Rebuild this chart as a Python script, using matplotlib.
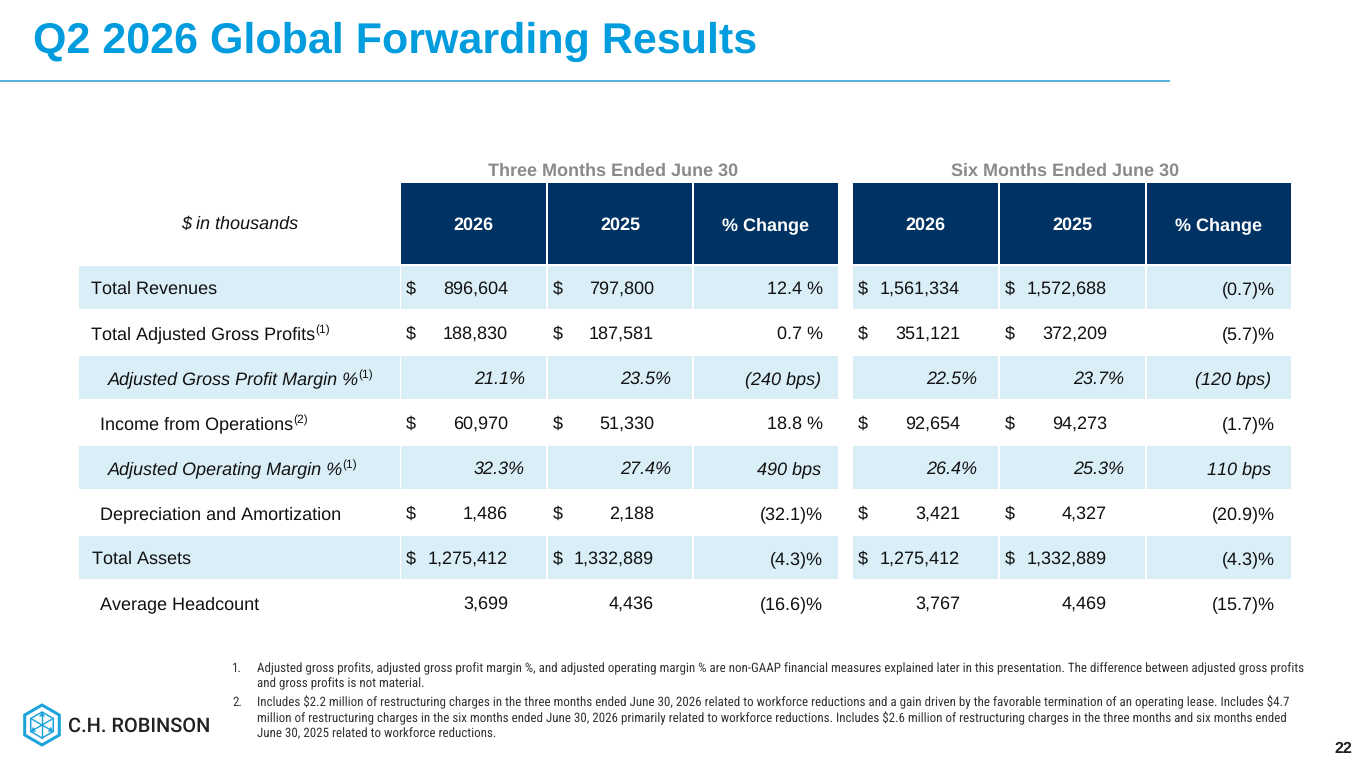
import matplotlib
matplotlib.use("Agg")
import matplotlib.pyplot as plt
from matplotlib.patches import Rectangle, Polygon
from matplotlib import font_manager as fm
import numpy as np

for k, v in (("text.kerning_factor", 10), ("text.hinting", "no_hinting"),
             ("text.hinting_factor", 1)):
    try:
        plt.rcParams[k] = v
    except Exception:
        pass

# ---------------- data ----------------
row_labels = ["Total Revenues", "Total Adjusted Gross Profits",
              "Adjusted Gross Profit Margin %", "Income from Operations",
              "Adjusted Operating Margin %", "Depreciation and Amortization",
              "Total Assets", "Average Headcount"]
row_notes = ["", "(1)", "(1)", "(2)", "(1)", "", "", ""]
row_kind = ["usd", "usd", "pct", "usd", "pct", "usd", "usd", "count"]
q2_2026 = [896604, 188830, 21.1, 60970, 32.3, 1486, 1275412, 3699]
q2_2025 = [797800, 187581, 23.5, 51330, 27.4, 2188, 1332889, 4436]
q2_change = [12.4, 0.7, -240, 18.8, 490, -32.1, -4.3, -16.6]
h1_2026 = [1561334, 351121, 22.5, 92654, 26.4, 3421, 1275412, 3767]
h1_2025 = [1572688, 372209, 23.7, 94273, 25.3, 4327, 1332889, 4469]
h1_change = [-0.7, -5.7, -120, -1.7, 110, -20.9, -4.3, -15.7]
col_headers = ["2026", "2025", "% Change"]
group_titles = ["Three Months Ended June 30", "Six Months Ended June 30"]
units_label = "$ in thousands"
title = "Q2 2026 Global Forwarding Results"
footnotes = [
    ("1.", ["Adjusted gross profits, adjusted gross profit margin %, and adjusted operating margin % are non-GAAP financial measures explained later in this presentation. The difference between adjusted gross profits",
            "and gross profits is not material."]),
    ("2.", ["Includes $2.2 million of restructuring charges in the three months ended June 30, 2026 related to workforce reductions and a gain driven by the favorable termination of an operating lease. Includes $4.7",
            "million of restructuring charges in the six months ended June 30, 2026 primarily related to workforce reductions. Includes $2.6 million of restructuring charges in the three months and six months ended",
            "June 30, 2025 related to workforce reductions."]),
]
page_number = "22"
brand = "C.H. ROBINSON"

# ---------------- style ----------------
FONT = "Liberation Sans"
avail = {f.name for f in fm.fontManager.ttflist}
NARROW = FONT
for cand in ("Liberation Sans Narrow", "Arial Narrow", "Roboto Condensed"):
    if cand in avail:
        NARROW = cand
        break
BLUE = "#009CDE"
RULE = "#5DB3D8"
NAVY = "#003263"
BAND = "#DAEEF8"
GRAY = "#8A8A8A"
TXT = "#111111"

W, H = 1365, 768
fig = plt.figure(figsize=(W / 100, H / 100), dpi=100)
ax = fig.add_axes([0, 0, 1, 1])
ax.set_xlim(0, W)
ax.set_ylim(H, 0)
ax.axis("off")
renderer = fig.canvas.get_renderer()


def pt(px):
    return px * 72 / 100


def T(x, y, s, size, **kw):
    kw.setdefault("family", FONT)
    kw.setdefault("color", TXT)
    kw.setdefault("va", "baseline")
    return ax.text(x, y, s, fontsize=pt(size), parse_math=False, **kw)


# title and rule
T(33, 53, title, 43, weight="bold", color=BLUE)
ax.plot([0, 1170], [81, 81], color=RULE, lw=pt(2), solid_capstyle="butt")

# table layout
label_x0, label_x1 = 79, 399.5
cols = [(401, 546), (548, 692), (694, 838), (853, 998), (1000, 1145), (1147, 1291)]
head_y0, head_y1 = 182.5, 264
row_y0, row_h, band_h = 266, 45, 43
FS = 18

# group titles
T(613, 176, group_titles[0], FS, weight="bold", color=GRAY, ha="center")
T(1065, 176, group_titles[1], FS, weight="bold", color=GRAY, ha="center")
T((label_x0 + label_x1) / 2, 229, units_label, FS, style="italic", ha="center")

# header cells
for i, (x0, x1) in enumerate(cols):
    ax.add_patch(Rectangle((x0, head_y0), x1 - x0, head_y1 - head_y0,
                           facecolor=NAVY, edgecolor="none"))
    T((x0 + x1) / 2, 230, col_headers[i % 3], FS, weight="bold",
      color="white", ha="center")


def fmt_val(v, kind):
    if kind == "pct":
        return f"{v:.1f}%"
    return f"{v:,.0f}"


def fmt_chg(v, kind):
    if kind == "pct":
        s = f"{abs(v):.0f} bps"
        return f"({s})" if v < 0 else s
    s = f"{abs(v):.1f}"
    return f"({s})%" if v < 0 else f"{s} %"


indent = {"Total Revenues": 91, "Total Adjusted Gross Profits": 91,
          "Total Assets": 92}
series = [q2_2026, q2_2025, q2_change, h1_2026, h1_2025, h1_change]

for r, label in enumerate(row_labels):
    top = row_y0 + r * row_h
    base = top + 28
    kind = row_kind[r]
    ital = "italic" if kind == "pct" else "normal"
    if r % 2 == 0:
        ax.add_patch(Rectangle((label_x0, top), label_x1 - label_x0, band_h,
                               facecolor=BAND, edgecolor="none"))
        for x0, x1 in cols:
            ax.add_patch(Rectangle((x0, top), x1 - x0, band_h,
                                   facecolor=BAND, edgecolor="none"))
    if kind == "pct":
        lx = 108
    else:
        lx = indent.get(label, 100)
    t = T(lx, base, label, FS, style=ital)
    if row_notes[r]:
        bb = t.get_window_extent(renderer)
        T(bb.x1 - (1.0 if kind == "pct" else -0.5), base - 5.5, row_notes[r], 12)
    for c, (x0, x1) in enumerate(cols):
        v = series[c][r]
        if c % 3 == 2:
            s = fmt_chg(v, kind)
            pad = (17 if c == 2 else 20) if kind == "pct" else (15 if c == 2 else 16)
            T(x1 - pad, base, s, FS, style=ital, ha="right")
        else:
            s = fmt_val(v, kind)
            if kind == "pct":
                T(x1 - 21, base, s, FS, style=ital, ha="right")
            else:
                T(x1 - 38, base, s, FS, ha="right")
                if kind == "usd":
                    T(x0 + 4.5, base, "$", FS)

# footnotes
fn_size = 13.0
y = 672
for num, lines in footnotes:
    T(232, y, num, fn_size, family=NARROW, color="#333333")
    for ln in lines:
        T(257, y, ln, fn_size, family=NARROW, color="#333333")
        y += 15.6
    y += 3.2

# page number
T(1352, 753, page_number, 16, weight="bold", ha="right", color="#222222")

# logo
LOGO = "#1BA3DC"
cx, cy, R = 42, 725, 20
ang = np.deg2rad(90 + 60 * np.arange(6))
outer = np.c_[cx + R * np.cos(ang), cy - R * np.sin(ang)]
ax.add_patch(Polygon(outer, closed=True, fill=False, edgecolor=LOGO,
                     lw=pt(3.0), joinstyle="miter"))
r2 = 13
inner = np.c_[cx + r2 * np.cos(ang), cy - r2 * np.sin(ang)]
ax.add_patch(Polygon(inner, closed=True, fill=False, edgecolor=LOGO,
                     lw=pt(1.5)))
for k in range(6):
    ex, ey = inner[k]
    ax.plot([cx, ex], [cy, ey], color=LOGO, lw=pt(1.4))
for k in (0, 2, 4):
    ex, ey = inner[k]
    dx, dy = (ex - cx) / r2, (ey - cy) / r2
    px_, py_ = -dy, dx
    hx, hy = ex - 4.5 * dx, ey - 4.5 * dy
    ax.add_patch(Polygon([[ex, ey], [hx + 3 * px_, hy + 3 * py_],
                          [hx - 3 * px_, hy - 3 * py_]], closed=True,
                         facecolor=LOGO, edgecolor="none"))
T(68, 732, brand, 20, family="Roboto", weight="medium", color="#222222")

fig.savefig("out.png", dpi=100)
